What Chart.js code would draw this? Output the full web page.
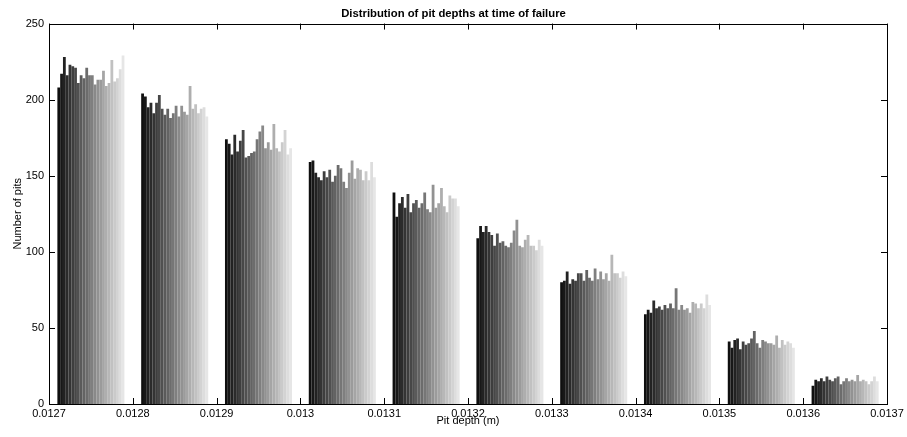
<!DOCTYPE html>
<html>
<head>
<meta charset="utf-8">
<script src="https://cdn.jsdelivr.net/npm/chart.js@4/dist/chart.umd.min.js"></script>
<style>
html,body{margin:0;padding:0;background:#fff;}
#wrap{width:907px;height:437px;}
</style>
</head>
<body>
<div id="wrap"><canvas id="c" width="907" height="437"></canvas></div>
<script>
// Bin categories (pit depth bins)
const bins = ['0.01275','0.01285','0.01295','0.01305','0.01315','0.01325','0.01335','0.01345','0.01355','0.01365'];
// x tick labels
const xTicks = [0.0127,0.0128,0.0129,0.013,0.0131,0.0132,0.0133,0.0134,0.0135,0.0136,0.0137];
const yTicks = [0,50,100,150,200,250];
// Counts per bin, one value per run (series)
const bin1  = [208,217,228,216,223,222,221,211,216,214,221,216,216,210,213,213,219,209,211,226,212,214,220,229];
const bin2  = [204,202,195,198,191,198,203,194,190,194,188,191,196,189,196,192,190,209,194,197,191,194,195,189];
const bin3  = [174,171,164,177,166,173,180,162,163,165,166,174,179,183,168,172,167,184,168,166,172,180,164,168];
const bin4  = [159,160,152,149,147,153,149,154,146,150,157,155,146,142,152,160,148,155,154,147,153,147,159,149];
const bin5  = [139,123,132,136,129,138,126,132,134,129,132,139,128,126,144,129,132,142,130,126,137,135,135,130];
const bin6  = [109,117,113,117,113,111,104,112,106,107,104,103,106,114,121,104,103,108,111,104,104,101,108,104];
const bin7  = [80,81,87,79,82,81,86,86,81,88,83,81,89,82,87,82,86,81,98,86,86,83,87,84];
const bin8  = [59,62,60,68,63,64,62,65,63,66,63,76,62,65,62,63,60,67,66,63,66,63,72,65];
const bin9  = [41,37,42,43,36,41,39,40,43,48,40,37,42,41,40,40,39,45,37,42,39,41,40,37];
const bin10 = [12,16,15,17,15,18,16,15,17,18,13,15,17,15,16,15,19,15,16,15,13,15,18,15];

const allBins = [bin1,bin2,bin3,bin4,bin5,bin6,bin7,bin8,bin9,bin10];
const nSeries = bin1.length;
const datasets = [];
for (let j = 0; j < nSeries; j++) {
  const g = Math.round(15 + (230 - 15) * j / (nSeries - 1));
  const col = 'rgb(' + g + ',' + g + ',' + g + ')';
  datasets.push({
    label: 'run ' + (j + 1),
    data: allBins.map(b => b[j]),
    backgroundColor: col,
    borderWidth: 0,
    categoryPercentage: 0.8,
    barPercentage: 1.0
  });
}

const boxPlugin = {
  id: 'matlabBox',
  afterDraw(chart) {
    const ctx = chart.ctx;
    const a = chart.chartArea;
    const xs = chart.scales.x2, ys = chart.scales.y;
    ctx.save();
    ctx.strokeStyle = '#000';
    ctx.lineWidth = 1;
    ctx.strokeRect(Math.round(a.left) + 0.5, Math.round(a.top) + 0.5, Math.round(a.right - a.left), Math.round(a.bottom - a.top));
    const L = 6;
    ctx.beginPath();
    xTicks.forEach(v => {
      const px = Math.round(xs.getPixelForValue(v)) + 0.5;
      ctx.moveTo(px, a.bottom); ctx.lineTo(px, a.bottom - L);
      ctx.moveTo(px, a.top); ctx.lineTo(px, a.top + L);
    });
    yTicks.forEach(v => {
      const py = Math.round(ys.getPixelForValue(v)) + 0.5;
      ctx.moveTo(a.left, py); ctx.lineTo(a.left + L, py);
      ctx.moveTo(a.right, py); ctx.lineTo(a.right - L, py);
    });
    ctx.stroke();
    ctx.restore();
  }
};

const FONT = "'Liberation Sans', Arial, Helvetica, sans-serif";

new Chart(document.getElementById('c'), {
  type: 'bar',
  data: { labels: bins, datasets: datasets },
  plugins: [boxPlugin],
  options: {
    responsive: false,
    animation: false,
    layout: { padding: 0 },
    plugins: {
      legend: { display: false },
      tooltip: { enabled: false },
      title: {
        display: true,
        fullSize: true,
        text: 'Distribution of pit depths at time of failure',
        color: '#000',
        font: { family: FONT, size: 11.3, weight: 'bold' },
        padding: { top: 7, bottom: 3 }
      }
    },
    scales: {
      x: {
        type: 'category',
        display: false,
        offset: true,
        grid: { display: false }
      },
      x2: {
        type: 'linear',
        position: 'bottom',
        offset: false,
        min: 0.0127,
        max: 0.0137,
        grid: { display: false, drawTicks: false, offset: false },
        border: { display: false },
        afterBuildTicks: (s) => { s.ticks = xTicks.map(v => ({ value: v })); },
        afterFit: (s) => { s.height = 33; },
        ticks: {
          autoSkip: false,
          maxRotation: 0,
          padding: 3,
          color: '#000',
          font: { family: FONT, size: 11 },
          callback: (v) => String(v)
        },
        title: {
          display: true,
          text: 'Pit depth (m)',
          color: '#000',
          font: { family: FONT, size: 11 },
          padding: { top: 0, bottom: 9 }
        }
      },
      y: {
        min: 0,
        max: 250,
        grid: { display: false, drawTicks: false },
        border: { display: false },
        afterBuildTicks: (s) => { s.ticks = yTicks.map(v => ({ value: v })); },
        afterFit: (s) => { s.width = 49; },
        ticks: {
          padding: 5,
          color: '#000',
          font: { family: FONT, size: 11 }
        },
        title: {
          display: true,
          text: 'Number of pits',
          color: '#000',
          font: { family: FONT, size: 11 },
          padding: { top: 11, bottom: 0 }
        }
      },
      yRight: {
        type: 'linear',
        position: 'right',
        min: 0,
        max: 250,
        display: true,
        grid: { display: false, drawTicks: false },
        border: { display: false },
        ticks: { display: false },
        afterFit: (s) => { s.width = 20; }
      }
    }
  }
});
</script>
</body>
</html>
